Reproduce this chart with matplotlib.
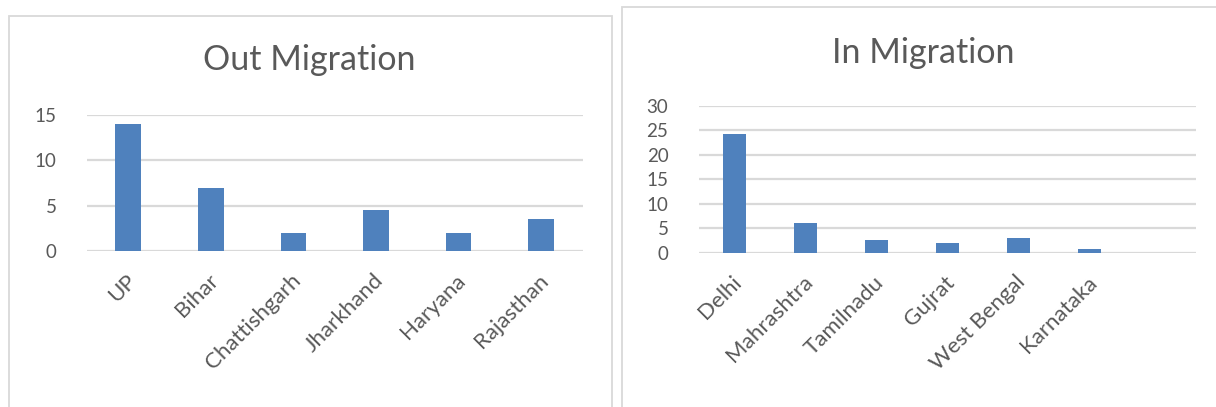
import matplotlib
matplotlib.use("Agg")
import matplotlib.pyplot as plt
from matplotlib.patches import Rectangle
from matplotlib.transforms import ScaledTranslation

plt.rcParams['font.family'] = ['Lato', 'DejaVu Sans']

# data
out_states = ["UP", "Bihar", "Chattishgarh", "Jharkhand", "Haryana", "Rajasthan"]
out_values = [14, 7, 2, 4.5, 2, 3.5]

in_states = ["Delhi", "Mahrashtra", "Tamilnadu", "Gujrat", "West Bengal", "Karnataka"]
in_values = [24.2, 6, 2.5, 2, 3, 0.7]

out_ticks = [0, 5, 10, 15]
in_ticks = [0, 5, 10, 15, 20, 25, 30]

W, H = 1216, 407
BAR = "#4f81bd"
GRID = "#d9d9d9"
TXT = "#595959"

fig = plt.figure(figsize=(W / 100, H / 100), dpi=100)
fig.patch.set_facecolor("white")


def px_axes(x0, x1, y_top, y_bot):
    return fig.add_axes([x0 / W, 1 - y_bot / H, (x1 - x0) / W, (y_bot - y_top) / H])


def panel_border(x0, y0, x1, y1):
    r = Rectangle((x0 / W, 1 - y1 / H), (x1 - x0) / W, (y1 - y0) / H,
                  transform=fig.transFigure, fill=False, edgecolor=GRID,
                  linewidth=1.3, clip_on=False)
    fig.patches.append(r)


def draw(ax, names, values, ticks, ncat, width, ypad):
    ax.bar(range(len(values)), values, width=width, color=BAR, zorder=3)
    ax.set_xlim(-0.5, ncat - 0.5)
    ax.set_ylim(ticks[0], ticks[-1])
    ax.set_yticks(ticks)
    ax.set_yticklabels([str(t) for t in ticks])
    ax.yaxis.grid(True, color=GRID, linewidth=1.6, zorder=0)
    ax.set_axisbelow(True)
    for s in ax.spines.values():
        s.set_visible(False)
    ax.tick_params(axis="both", length=0, colors=TXT)
    ax.tick_params(axis="y", pad=ypad, labelsize=13.5)
    ax.set_xticks(range(len(names)))
    ax.set_xticklabels(names, rotation=45, ha="right", va="top",
                       rotation_mode="anchor", fontsize=16, color=TXT)
    ax.tick_params(axis="x", pad=14)
    shift = ScaledTranslation(-3 / 100, 0, fig.dpi_scale_trans)
    for lab in ax.get_xticklabels():
        lab.set_transform(lab.get_transform() + shift)
    ax.set_facecolor("none")


# left panel
panel_border(9, 16, 612, 420)
ax1 = px_axes(87, 582.5, 115, 251)
draw(ax1, out_states, out_values, out_ticks, 6, 0.31, 22)
fig.text(309 / W, 1 - 70 / H, "Out Migration", ha="center", va="baseline",
         fontsize=24.5, color=TXT)

# right panel
panel_border(622, 7, 1230, 420)
ax2 = px_axes(699, 1196, 105.7, 252.7)
draw(ax2, in_states, in_values, in_ticks, 7, 0.32, 22)
fig.text(923 / W, 1 - 63 / H, "In Migration", ha="center", va="baseline",
         fontsize=24.5, color=TXT)

fig.savefig("out.png", dpi=100, facecolor="white")
